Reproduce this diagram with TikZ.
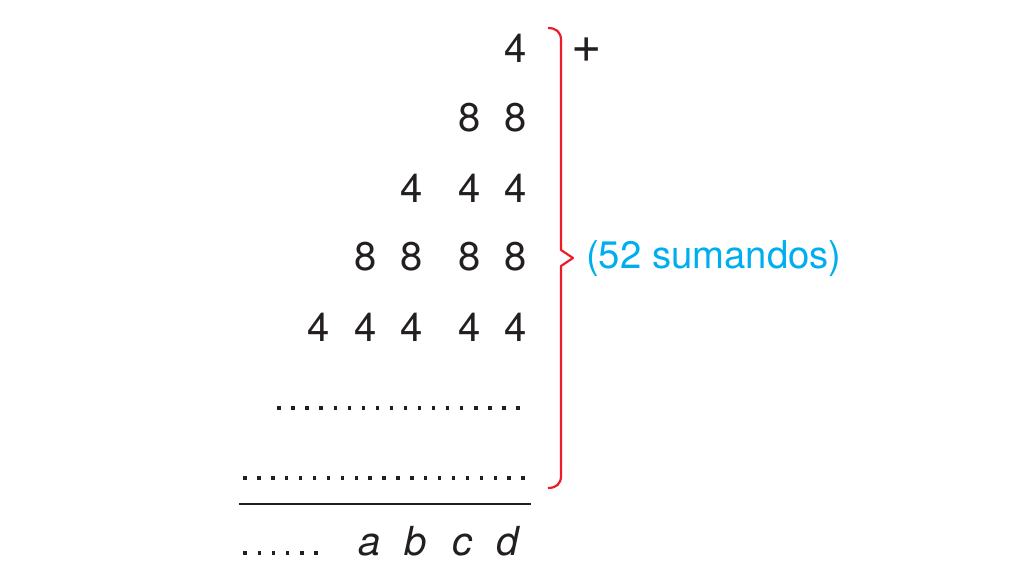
\documentclass[tikz,border=0pt]{standalone}
\usepackage{fontspec}
\setmainfont{TeX Gyre Heros}
\definecolor{bracered}{RGB}{237,28,36}
\definecolor{labelblue}{RGB}{0,174,239}
\definecolor{ink}{RGB}{35,31,32}
\begin{document}
\begin{tikzpicture}[x=1pt,y=-1pt,
  digit/.style={inner sep=0pt, font=\fontsize{40}{40}\selectfont, text=ink},
  letter/.style={inner sep=0pt, anchor=base, font=\fontsize{40}{40}\selectfont\itshape, text=ink},
  dotsq/.style={fill=ink, draw=none},
  brace/.style={draw=bracered, line width=2.2pt, line join=round},
  rule/.style={draw=ink, line width=2pt}]
\useasboundingbox (0,0) rectangle (1020,586);
% row 1
\node[digit] (r1c5) at (516,48) {4};
% row 2
\node[digit] (r2c4) at (470,118) {8};
\node[digit] (r2c5) at (516,118) {8};
% row 3
\node[digit] (r3c3) at (412,188) {4};
\node[digit] (r3c4) at (470,188) {4};
\node[digit] (r3c5) at (516,188) {4};
% row 4
\node[digit] (r4c2) at (366,257) {8};
\node[digit] (r4c3) at (412,257) {8};
\node[digit] (r4c4) at (470,257) {8};
\node[digit] (r4c5) at (516,257) {8};
% row 5
\node[digit] (r5c1) at (319,327) {4};
\node[digit] (r5c2) at (366,327) {4};
\node[digit] (r5c3) at (412,327) {4};
\node[digit] (r5c4) at (470,327) {4};
\node[digit] (r5c5) at (516,327) {4};
% dotted rows
\foreach \i in {0,...,17} {
  \fill[dotsq] ({279+\i*14.06-1.7},406.3) rectangle ++(3.4,3.4);
}
\foreach \i in {0,...,20} {
  \fill[dotsq] ({245+\i*13.9-1.7},476.3) rectangle ++(3.4,3.4);
}
% sum line
\coordinate (ruleL) at (239,504);
\coordinate (ruleR) at (531,504);
\draw[rule] (ruleL) -- (ruleR);
% result row
\foreach \i in {0,...,5} {
  \fill[dotsq] ({245+\i*14.2-1.7},551.3) rectangle ++(3.4,3.4);
}
\node[letter] (la) at (370,555) {a};
\node[letter] (lb) at (416,555) {b};
\node[letter] (lc) at (462,555) {c};
\node[letter] (ld) at (508,555) {d};
% plus sign
\node[digit, font=\fontsize{52}{52}\selectfont] (plus) at (587,50) {+};
% brace
\coordinate (btop) at (548,28);
\coordinate (btip) at (573,258);
\coordinate (bbot) at (548,488);
\draw[brace] (btop) .. controls (556,28) and (561,32) .. (561,40) -- (561,250) -- (btip) -- (561,266) -- (561,476) .. controls (561,484) and (556,488) .. (bbot);
% label
\node[digit, font=\fontsize{38.3}{38.3}\selectfont, text=labelblue, anchor=west] (lbl) at (586,259) {(52 sumandos)};
\end{tikzpicture}
\end{document}
